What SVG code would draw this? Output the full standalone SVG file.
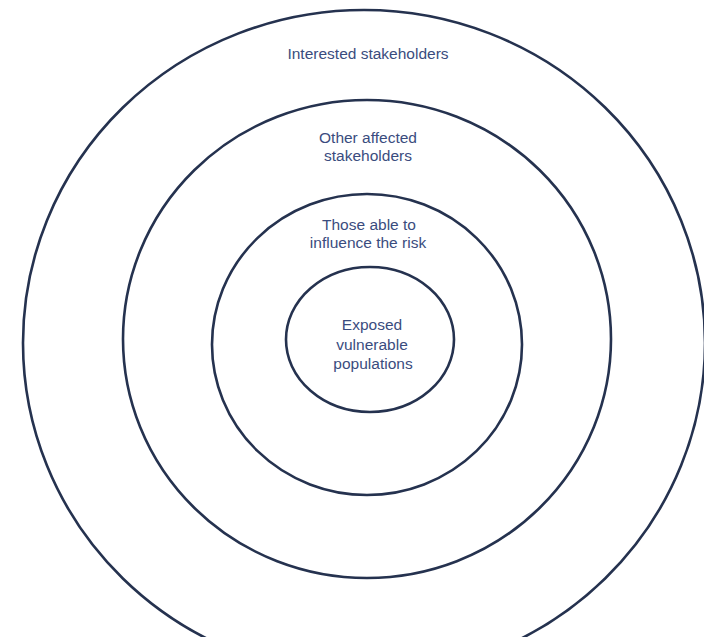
<svg xmlns="http://www.w3.org/2000/svg" width="704" height="637" viewBox="0 0 704 637">
<style>
.ring{fill:none;stroke:#25324f;stroke-width:2.6}
.lbl{font-family:"Liberation Sans",Arial,sans-serif;font-size:15.5px;fill:#3a4c7e;text-anchor:middle}
</style>
<rect width="704" height="637" fill="#ffffff"/>
<g id="ring-interested">
<ellipse class="ring" cx="364" cy="343" rx="341" ry="333"/>
<text class="lbl" x="368" y="59">Interested stakeholders</text>
</g>
<g id="ring-other">
<ellipse class="ring" cx="367" cy="339" rx="244" ry="239"/>
<text class="lbl" x="368" y="143">Other affected</text>
<text class="lbl" x="368" y="161">stakeholders</text>
</g>
<g id="ring-influence">
<ellipse class="ring" cx="367" cy="344.5" rx="155" ry="150.5"/>
<text class="lbl" x="369" y="230">Those able to</text>
<text class="lbl" x="368" y="248">influence the risk</text>
</g>
<g id="ring-exposed">
<ellipse class="ring" cx="370" cy="339.5" rx="84" ry="72.5"/>
<text class="lbl" x="372" y="330">Exposed</text>
<text class="lbl" x="372" y="350">vulnerable</text>
<text class="lbl" x="373" y="369">populations</text>
</g>
<g id="connectors"></g>
</svg>
